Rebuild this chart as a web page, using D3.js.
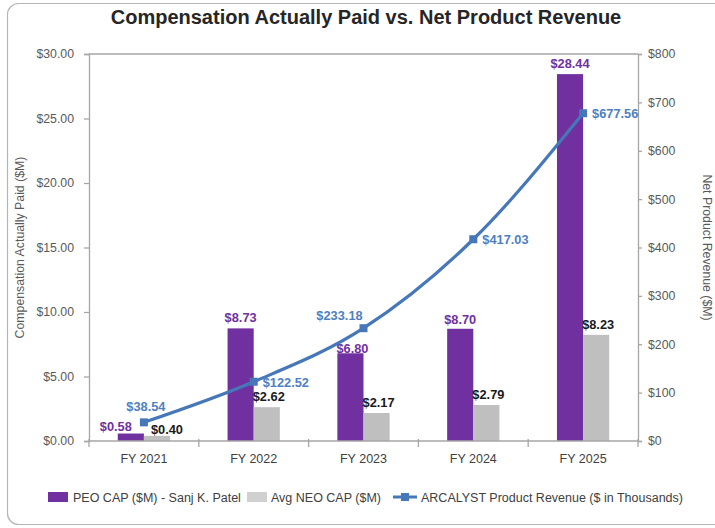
<!DOCTYPE html>
<html>
<head>
<meta charset="utf-8">
<script src="https://cdn.jsdelivr.net/npm/d3@7/dist/d3.min.js"></script>
<style>
  html, body { margin: 0; padding: 0; background: #fff; }
  svg { display: block; font-family: "Liberation Sans", Arial, sans-serif; }
</style>
</head>
<body>
<svg id="chart" width="715" height="528"></svg>
<script>
// ---- data ----
const categories = ["FY 2021", "FY 2022", "FY 2023", "FY 2024", "FY 2025"];
const peoCap = [0.58, 8.73, 6.80, 8.70, 28.44];
const neoCap = [0.40, 2.62, 2.17, 2.79, 8.23];
const revenue = [38.54, 122.52, 233.18, 417.03, 677.56];
const leftTicks = [0, 5, 10, 15, 20, 25, 30];
const rightTicks = [0, 100, 200, 300, 400, 500, 600, 700, 800];
const seriesNames = ["PEO CAP ($M) - Sanj K. Patel", "Avg NEO CAP ($M)", "ARCALYST Product Revenue ($ in Thousands)"];

// ---- label placement (style, not data) ----
const peoLabelDx = [-15, 0, 2, 0, 0];
const peoLabelDy = [-3, -6, 0, -5, -6];
const neoLabelDx = [10, 2, 2, 2, 2];
const neoLabelDy = [-2, -6, -6, -6, -6];
// anchor: "above", "right", "aboveleft"
const revLabelPos = ["above", "right", "aboveleft", "right", "right"];

const purple = "#7030a0";
const gray = "#bfbfbf";
const blue = "#4677b8";
const blueText = "#4f7fc1";
const axisColor = "#a6a6a6";
const textColor = "#595959";

const svg = d3.select("#chart");
const m = { left: 89, right: 638, top: 54, bottom: 441 };

// outer rounded frame
svg.append("rect")
  .attr("x", 7.5).attr("y", 3.5).attr("width", 720).attr("height", 521)
  .attr("rx", 11).attr("ry", 11)
  .attr("fill", "#fff").attr("stroke", "#b5b5b5").attr("stroke-width", 1.2);

// title
svg.append("text")
  .attr("x", 366).attr("y", 24)
  .attr("text-anchor", "middle")
  .attr("font-size", 20).attr("font-weight", "bold")
  .attr("fill", "#262626")
  .text("Compensation Actually Paid vs. Net Product Revenue");

const x = d3.scaleBand().domain(categories).range([m.left, m.right]).padding(0);
const yL = d3.scaleLinear().domain([0, 30]).range([m.bottom, m.top]);
const yR = d3.scaleLinear().domain([0, 800]).range([m.bottom, m.top]);
const barW = x.bandwidth() * 0.238;
const cx = d => x(d) + x.bandwidth() / 2;

// top frame line
svg.append("line")
  .attr("x1", m.left).attr("x2", m.right).attr("y1", m.top).attr("y2", m.top)
  .attr("stroke", axisColor).attr("stroke-width", 1.3);

// left axis
const gL = svg.append("g").attr("transform", `translate(${m.left},0)`)
  .call(d3.axisLeft(yL).tickValues(leftTicks).tickSize(5).tickPadding(10)
    .tickFormat(d => "$" + d3.format(".2f")(d)));
// right axis
const gR = svg.append("g").attr("transform", `translate(${m.right},0)`)
  .call(d3.axisRight(yR).tickValues(rightTicks).tickSize(4).tickPadding(6)
    .tickFormat(d => "$" + d));
[gL, gR].forEach(g => {
  g.select(".domain").attr("stroke", axisColor).attr("stroke-width", 1.3);
  g.selectAll(".tick line").attr("stroke", axisColor).attr("stroke-width", 1.3);
  g.selectAll(".tick text").attr("fill", textColor).attr("font-size", 12.3)
    .attr("font-family", "Liberation Sans, Arial, sans-serif");
});

// bars
svg.append("g").selectAll("rect").data(categories).join("rect")
  .attr("x", d => cx(d) - barW)
  .attr("y", (d, i) => yL(peoCap[i]))
  .attr("width", barW)
  .attr("height", (d, i) => yL(0) - yL(peoCap[i]))
  .attr("fill", purple);
svg.append("g").selectAll("rect").data(categories).join("rect")
  .attr("x", d => cx(d))
  .attr("y", (d, i) => yL(neoCap[i]))
  .attr("width", barW)
  .attr("height", (d, i) => yL(0) - yL(neoCap[i]))
  .attr("fill", gray);

// bottom axis
const gB = svg.append("g").attr("transform", `translate(0,${m.bottom})`);
gB.append("line").attr("x1", m.left).attr("x2", m.right)
  .attr("stroke", axisColor).attr("stroke-width", 1.3);
const boundaries = categories.map(d => x(d)).concat([x(categories[categories.length - 1]) + x.bandwidth()]);
gB.selectAll("line.tk").data(boundaries).join("line").attr("class", "tk")
  .attr("x1", d => d).attr("x2", d => d).attr("y1", -2).attr("y2", 6)
  .attr("stroke", axisColor).attr("stroke-width", 1.3);
gB.selectAll("text").data(categories).join("text")
  .attr("x", d => cx(d)).attr("y", 22)
  .attr("text-anchor", "middle").attr("font-size", 12.5).attr("fill", "#404040")
  .text(d => d);

// bar labels
svg.append("g").selectAll("text").data(categories).join("text")
  .attr("x", (d, i) => cx(d) - barW / 2 + peoLabelDx[i])
  .attr("y", (d, i) => yL(peoCap[i]) + peoLabelDy[i])
  .attr("text-anchor", "middle").attr("font-size", 12.8).attr("font-weight", "bold")
  .attr("fill", purple)
  .text((d, i) => "$" + d3.format(".2f")(peoCap[i]));
svg.append("g").selectAll("text").data(categories).join("text")
  .attr("x", (d, i) => cx(d) + barW / 2 + neoLabelDx[i])
  .attr("y", (d, i) => yL(neoCap[i]) + neoLabelDy[i])
  .attr("text-anchor", "middle").attr("font-size", 12.8).attr("font-weight", "bold")
  .attr("fill", "#1a1a1a")
  .text((d, i) => "$" + d3.format(".2f")(neoCap[i]));

// revenue line
const line = d3.line().x((d, i) => cx(categories[i])).y(d => yR(d)).curve(d3.curveMonotoneX);
svg.append("path").datum(revenue)
  .attr("d", line).attr("fill", "none")
  .attr("stroke", blue).attr("stroke-width", 3.2);
svg.append("g").selectAll("rect").data(revenue).join("rect")
  .attr("x", (d, i) => cx(categories[i]) - 4)
  .attr("y", d => yR(d) - 4)
  .attr("width", 8).attr("height", 8)
  .attr("fill", blue);
svg.append("g").selectAll("text").data(revenue).join("text")
  .attr("x", (d, i) => {
    const px = cx(categories[i]);
    const p = revLabelPos[i];
    return p === "above" ? px + 2 : p === "right" ? px + 9 : px - 24;
  })
  .attr("y", (d, i) => {
    const py = yR(d);
    const p = revLabelPos[i];
    return p === "above" ? py - 11 : p === "right" ? py + 5 : py - 8;
  })
  .attr("text-anchor", (d, i) => revLabelPos[i] === "right" ? "start" : "middle")
  .attr("font-size", 12.8).attr("font-weight", "bold").attr("fill", blueText)
  .text(d => "$" + d3.format(".2f")(d));

// axis titles
svg.append("text")
  .attr("transform", `translate(24,${(m.top + m.bottom) / 2}) rotate(-90)`)
  .attr("text-anchor", "middle").attr("font-size", 12.3).attr("fill", textColor)
  .text("Compensation Actually Paid ($M)");
svg.append("text")
  .attr("transform", `translate(703,${(m.top + m.bottom) / 2}) rotate(90)`)
  .attr("text-anchor", "middle").attr("font-size", 12.3).attr("fill", textColor)
  .text("Net Product Revenue ($M)");

// legend
const lg = svg.append("g").attr("transform", "translate(0,497)");
lg.append("rect").attr("x", 48).attr("y", -5).attr("width", 20).attr("height", 10).attr("fill", purple);
lg.append("text").attr("x", 73).attr("y", 4.5).attr("font-size", 12.5).attr("fill", "#404040").text(seriesNames[0]);
lg.append("rect").attr("x", 247).attr("y", -5).attr("width", 20).attr("height", 10).attr("fill", "#d0d0d0");
lg.append("text").attr("x", 271).attr("y", 4.5).attr("font-size", 12.5).attr("fill", "#404040").text(seriesNames[1]);
lg.append("line").attr("x1", 393).attr("x2", 417).attr("y1", 0).attr("y2", 0).attr("stroke", blue).attr("stroke-width", 3);
lg.append("rect").attr("x", 401).attr("y", -4).attr("width", 8).attr("height", 8).attr("fill", blue);
lg.append("text").attr("x", 421).attr("y", 4.5).attr("font-size", 12.5).attr("fill", "#404040").text(seriesNames[2]);
</script>
</body>
</html>
